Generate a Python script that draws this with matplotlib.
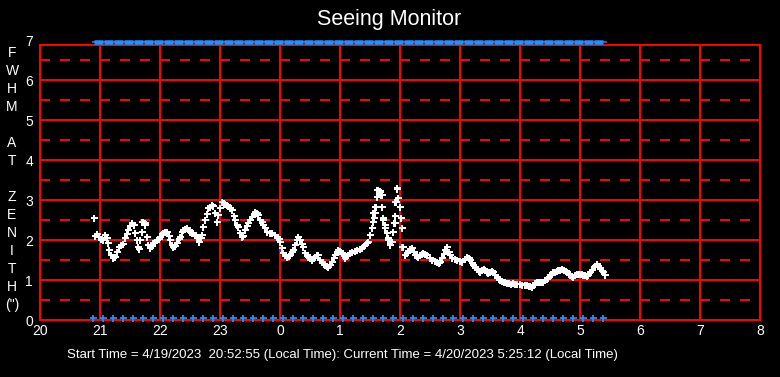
import numpy as np
import matplotlib
matplotlib.use("Agg")
import matplotlib.pyplot as plt
from matplotlib import font_manager

# time axis: minutes after 20:00 local time
fwhm_minutes = [
    54, 55, 57, 59, 61, 63, 65, 67, 68, 69, 71, 73, 75, 77, 79, 81, 83, 85, 87, 88,
    90, 92, 94, 95, 97, 98, 99, 100, 102, 103, 105, 107, 108, 110, 112, 113, 115, 117, 119, 120,
    122, 123, 125, 127, 129, 130, 132, 133, 135, 137, 139, 140, 142, 143, 145, 147, 149, 150, 152, 153,
    155, 157, 158, 159, 161, 162, 163, 165, 167, 168, 170, 172, 173, 175, 177, 178, 180, 182, 184, 185,
    187, 188, 190, 192, 194, 195, 197, 198, 200, 202, 203, 205, 207, 208, 210, 212, 214, 215, 217, 218,
    220, 222, 223, 225, 227, 230, 232, 235, 237, 239, 240, 242, 243, 245, 247, 249, 250, 252, 253, 255,
    257, 258, 260, 262, 263, 265, 267, 268, 270, 272, 274, 275, 277, 278, 280, 282, 284, 285, 287, 288,
    290, 292, 294, 295, 297, 298, 300, 302, 304, 305, 307, 308, 310, 312, 315, 317, 320, 322, 324, 325,
    327, 328, 330, 332, 333, 334, 335, 336, 337, 338, 340, 341, 342, 343, 345, 347, 348, 350, 352, 353,
    354, 355, 356, 357, 358, 360, 361, 362, 363, 365, 367, 368, 370, 372, 374, 375, 377, 378, 380, 382,
    383, 385, 387, 390, 392, 395, 397, 399, 400, 402, 404, 405, 407, 409, 410, 412, 415, 417, 420, 422,
    425, 427, 429, 430, 432, 433, 435, 437, 439, 440, 442, 444, 445, 447, 448, 450, 452, 453, 455, 457,
    459, 460, 462, 464, 465, 467, 469, 471, 473, 475, 477, 480, 482, 485, 487, 489, 490, 492, 494, 495,
    497, 499, 501, 503, 505, 507, 508, 510, 512, 513, 515, 517, 518, 520, 522, 524, 526, 527, 529, 530,
    532, 533, 535, 537, 538, 540, 542, 543, 545, 547, 548, 550, 552, 554, 555, 557, 558, 560, 562, 563,
    565,
    # scattered extra points
    337, 340, 342, 335, 333, 333, 343, 332, 345, 355, 347, 353, 362, 348, 352, 350, 357, 358, 355, 360,
    362, 365, 102, 105, 177, 178,
]
fwhm_values = [
    2.55, 2.10, 2.15, 2.08, 2.02, 2.00, 2.12, 2.05, 1.92, 1.75, 1.62, 1.56, 1.58, 1.70, 1.82, 1.88, 1.90, 2.05, 2.15, 2.25,
    2.35, 2.42, 2.38, 2.17, 2.00, 1.82, 1.78, 2.00, 2.20, 2.45, 2.42, 2.08, 1.88, 1.80, 1.85, 1.92, 1.95, 2.00, 2.02, 2.08,
    2.15, 2.17, 2.20, 2.20, 2.10, 2.00, 1.88, 1.82, 1.85, 1.92, 2.02, 2.08, 2.20, 2.25, 2.28, 2.30, 2.25, 2.20, 2.18, 2.17,
    2.12, 2.08, 2.05, 1.95, 2.05, 2.12, 2.33, 2.50, 2.65, 2.80, 2.82, 2.88, 2.85, 2.68, 2.45, 2.62, 2.80, 2.95, 2.92, 2.90,
    2.88, 2.85, 2.80, 2.75, 2.60, 2.50, 2.38, 2.33, 2.17, 2.08, 2.10, 2.25, 2.35, 2.42, 2.50, 2.58, 2.65, 2.70, 2.68, 2.62,
    2.50, 2.45, 2.38, 2.30, 2.20, 2.17, 2.17, 2.12, 2.08, 2.02, 1.95, 1.80, 1.68, 1.62, 1.58, 1.60, 1.62, 1.70, 1.75, 1.88,
    2.00, 2.08, 2.00, 1.90, 1.82, 1.68, 1.62, 1.58, 1.55, 1.50, 1.55, 1.58, 1.62, 1.62, 1.50, 1.45, 1.40, 1.38, 1.35, 1.33,
    1.38, 1.45, 1.55, 1.62, 1.70, 1.75, 1.72, 1.68, 1.60, 1.55, 1.60, 1.62, 1.68, 1.70, 1.72, 1.75, 1.78, 1.80, 1.85, 1.88,
    1.92, 1.95, 2.12, 2.30, 2.45, 2.55, 2.68, 2.82, 3.08, 3.25, 3.20, 3.12, 2.82, 2.50, 2.30, 2.17, 2.00, 1.88, 1.95, 2.20,
    2.42, 2.60, 2.95, 3.30, 3.05, 2.82, 2.55, 2.30, 1.82, 1.62, 1.68, 1.72, 1.78, 1.80, 1.70, 1.62, 1.60, 1.58, 1.62, 1.65,
    1.68, 1.65, 1.62, 1.55, 1.50, 1.48, 1.45, 1.42, 1.45, 1.55, 1.65, 1.75, 1.82, 1.70, 1.62, 1.55, 1.52, 1.50, 1.48, 1.45,
    1.52, 1.58, 1.55, 1.50, 1.42, 1.38, 1.32, 1.28, 1.22, 1.20, 1.25, 1.28, 1.25, 1.20, 1.18, 1.20, 1.22, 1.20, 1.12, 1.08,
    1.03, 1.00, 0.98, 0.95, 0.95, 0.92, 0.92, 0.90, 0.92, 0.90, 0.90, 0.90, 0.88, 0.88, 0.88, 0.86, 0.84, 0.83, 0.88, 0.92,
    0.95, 0.95, 0.95, 0.95, 1.00, 1.02, 1.05, 1.12, 1.15, 1.20, 1.20, 1.22, 1.25, 1.25, 1.28, 1.25, 1.22, 1.20, 1.15, 1.12,
    1.10, 1.08, 1.12, 1.15, 1.15, 1.15, 1.15, 1.13, 1.12, 1.10, 1.12, 1.20, 1.25, 1.32, 1.35, 1.40, 1.35, 1.30, 1.22, 1.20,
    1.12,
    3.25, 3.22, 3.12, 2.82, 2.68, 2.45, 2.55, 2.30, 2.38, 2.42, 2.17, 2.20, 2.30, 2.05, 1.95, 1.88, 3.28, 3.05, 2.95, 2.82,
    1.82, 1.62, 2.45, 2.38, 2.45, 2.62,
]

# status markers (every 10 minutes of the session)
status_low_minutes = list(range(53, 564, 10))
status_high_minutes = list(range(58, 559, 10))
status_span = [52, 567]

x_ticks = list(range(0, 721, 60))
x_tick_labels = ["20", "21", "22", "23", "0", "1", "2", "3", "4", "5", "6", "7", "8"]
y_ticks = [0, 1, 2, 3, 4, 5, 6, 7]
half_levels = [0.5, 1.5, 2.5, 3.5, 4.5, 5.5, 6.5]
ylabel_letters = ["F", "W", "H", "M", "", "A", "T", "", "Z", "E", "N", "I", "T", "H", "(\")"]
footer = "Start Time = 4/19/2023  20:52:55 (Local Time): Current Time = 4/20/2023 5:25:12 (Local Time)"

installed = {f.name for f in font_manager.fontManager.ttflist}
narrow = "Liberation Sans Narrow" if "Liberation Sans Narrow" in installed else "Liberation Sans"
plt.rcParams["font.family"] = ["Liberation Sans", "DejaVu Sans"]
plt.rcParams["lines.scale_dashes"] = False

W, H = 780, 377
fig = plt.figure(figsize=(W / 100, H / 100), dpi=100, facecolor="black")
ax = fig.add_axes([40 / W, (H - 320) / H, 720 / W, 280 / H], facecolor="black")

red = "#ff0000"
blue = "#1e90ff"
px = 72 / 100  # points per pixel
frame_top = 6.875  # the red frame sits a little below the 7 level
for x in x_ticks:
    ax.vlines(x, 0, frame_top, color=red, lw=2 * px, zorder=1)
for y in y_ticks[:-1]:
    ax.axhline(y, color=red, lw=2 * px, zorder=1)
ax.axhline(frame_top, color=red, lw=2 * px, zorder=1)
for y in half_levels:
    ax.axhline(y, color=red, lw=2 * px, dashes=(10 * px, 10 * px), zorder=1)

ax.plot(fwhm_minutes, fwhm_values, ls="none", marker="+", color="white",
        ms=7 * px, mew=2 * px, zorder=3)

low_y = 0.06
high_y = 6.94
ax.plot(status_low_minutes, [low_y] * len(status_low_minutes), ls="none", marker="+",
        color=blue, ms=7 * px, mew=1.8 * px, clip_on=False, zorder=4)
ax.plot(status_span, [high_y, high_y], color=blue, lw=1.5 * px, clip_on=False, zorder=4,
        solid_capstyle="butt")
ax.plot(status_high_minutes, [high_y] * len(status_high_minutes), ls="none", marker="_",
        color=blue, ms=9 * px, mew=4.5 * px, clip_on=False, zorder=4)

ax.set_xlim(0, 720)
ax.set_ylim(0, 7)
ax.set_xticks(x_ticks)
ax.set_xticklabels(x_tick_labels)
ax.set_yticks(y_ticks)
ax.tick_params(colors="white", labelsize=10, length=0)
ax.tick_params(axis="x", pad=3)
ax.tick_params(axis="y", pad=5)
ax.spines["top"].set_visible(False)
for s in ["left", "right", "bottom"]:
    ax.spines[s].set_color(red)
    ax.spines[s].set_linewidth(2 * px)
ax.spines["left"].set_bounds(0, frame_top)
ax.spines["right"].set_bounds(0, frame_top)

fig.text(389 / W, 1 - 20 / H, "Seeing Monitor", color="white", fontsize=15.5,
         ha="center", va="center")
for i, letter in enumerate(ylabel_letters):
    fig.text(12 / W, 1 - (53 + 18 * i) / H, letter, color="white", fontsize=10,
             ha="center", va="center")
fig.text(342 / W, 1 - 355 / H, footer, color="white", fontsize=9.5,
         family=[narrow, "DejaVu Sans"], ha="center", va="center")

fig.savefig("out.png", dpi=100, facecolor="black")
